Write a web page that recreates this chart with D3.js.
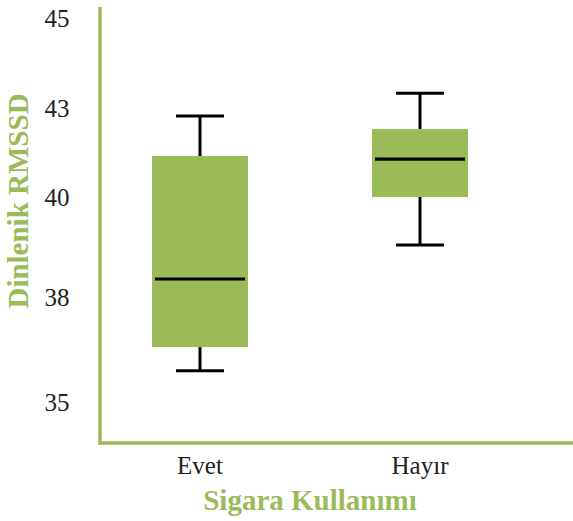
<!DOCTYPE html>
<html>
<head>
<meta charset="utf-8">
<script src="https://cdn.jsdelivr.net/npm/d3@7"></script>
<style>
  html, body { margin: 0; padding: 0; background: #fff; }
  svg { display: block; }
</style>
</head>
<body>
<script>
// Categories and five-number summaries of resting RMSSD by smoking status
const categories = ["Evet", "Hayır"];
const whiskerLow  = [35.89, 39.04];
const q1          = [36.57, 40.00];
const median      = [38.36, 41.28];
const q3          = [41.38, 42.29];
const whiskerHigh = [42.73, 43.33];

// Axis tick labels and where they sit along the value axis
const tickValues = [35, 38, 40, 43, 45];
const tickPixels = [402, 297, 197, 108, 18];

const xTitle = "Sigara Kullanımı";
const yTitle = "Dinlenik RMSSD";

const W = 573, H = 521;
const green = "#9bbb59";
const axisX = 100, axisTop = 7, axisBottom = 443;

const svg = d3.select("body").append("svg")
  .attr("width", W).attr("height", H);

// Piecewise-linear value scale through the labelled ticks
const y = d3.scaleLinear().domain(tickValues).range(tickPixels);

const x = d3.scaleBand().domain(categories).range([90, 530])
  .paddingInner(0.5636).paddingOuter(0.2818);
const boxW = x.bandwidth();
const capW = boxW * 0.5;

const data = categories.map((c, i) => ({
  c, lo: whiskerLow[i], q1: q1[i], med: median[i], q3: q3[i], hi: whiskerHigh[i]
}));

const g = svg.append("g");
data.forEach(d => {
  const cx = x(d.c) + boxW / 2;
  // whiskers
  g.append("line").attr("x1", cx).attr("x2", cx)
    .attr("y1", y(d.hi)).attr("y2", y(d.q3))
    .attr("stroke", "#000").attr("stroke-width", 3);
  g.append("line").attr("x1", cx).attr("x2", cx)
    .attr("y1", y(d.q1)).attr("y2", y(d.lo))
    .attr("stroke", "#000").attr("stroke-width", 3);
  g.append("line").attr("x1", cx - capW / 2).attr("x2", cx + capW / 2)
    .attr("y1", y(d.hi)).attr("y2", y(d.hi))
    .attr("stroke", "#000").attr("stroke-width", 3);
  g.append("line").attr("x1", cx - capW / 2).attr("x2", cx + capW / 2)
    .attr("y1", y(d.lo)).attr("y2", y(d.lo))
    .attr("stroke", "#000").attr("stroke-width", 3);
  // box
  g.append("rect").attr("x", x(d.c)).attr("width", boxW)
    .attr("y", y(d.q3)).attr("height", y(d.q1) - y(d.q3))
    .attr("fill", green);
  // median
  g.append("line").attr("x1", x(d.c) + 3).attr("x2", x(d.c) + boxW - 3)
    .attr("y1", y(d.med)).attr("y2", y(d.med))
    .attr("stroke", "#000").attr("stroke-width", 3.2);
});

// Axis lines
svg.append("line").attr("x1", axisX).attr("x2", axisX)
  .attr("y1", axisTop).attr("y2", axisBottom + 1.5)
  .attr("stroke", green).attr("stroke-width", 3.5);
svg.append("line").attr("x1", axisX - 1.5).attr("x2", W)
  .attr("y1", axisBottom).attr("y2", axisBottom)
  .attr("stroke", green).attr("stroke-width", 3.5);

const font = "'Liberation Serif', 'DejaVu Serif', serif";

// Y tick labels
svg.append("g").selectAll("text").data(tickValues).join("text")
  .attr("x", 57).attr("y", d => y(d))
  .attr("dy", "0.35em")
  .attr("text-anchor", "middle")
  .attr("font-family", font).attr("font-size", 25)
  .attr("fill", "#222")
  .text(d => d);

// X category labels
svg.append("g").selectAll("text").data(categories).join("text")
  .attr("x", d => x(d) + boxW / 2).attr("y", 474)
  .attr("text-anchor", "middle")
  .attr("font-family", font).attr("font-size", 25)
  .attr("fill", "#222")
  .text(d => d);

// Axis titles
svg.append("text")
  .attr("x", 310).attr("y", 510)
  .attr("text-anchor", "middle")
  .attr("font-family", font).attr("font-size", 29).attr("font-weight", "bold")
  .attr("fill", green)
  .text(xTitle);

svg.append("text")
  .attr("transform", "translate(28,201) rotate(-90)")
  .attr("text-anchor", "middle")
  .attr("font-family", font).attr("font-size", 29).attr("font-weight", "bold")
  .attr("fill", green)
  .text(yTitle);
</script>
</body>
</html>
